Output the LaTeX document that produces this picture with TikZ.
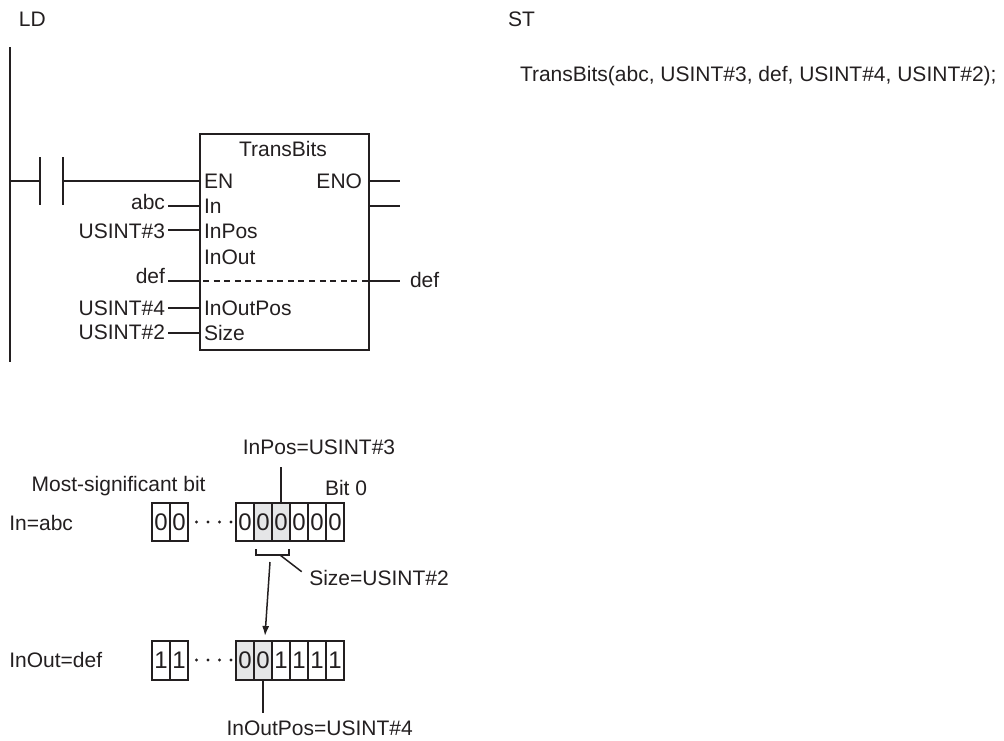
\documentclass[tikz,border=0pt]{standalone}
\usepackage{fontspec}
\setmainfont{Liberation Sans}
\usetikzlibrary{arrows.meta}
\definecolor{ink}{RGB}{35,31,32}
\definecolor{cellgray}{RGB}{229,230,231}
\begin{document}
\begin{tikzpicture}[x=1pt,y=-1pt,
  font=\fontsize{21}{25}\selectfont, line width=2pt, draw=ink, text=ink,
  lbl/.style={inner sep=0pt, outer sep=0pt},
  wire/.style={line width=2pt},
  thin wire/.style={line width=1.5pt},
  cell/.style={draw=ink, line width=1.5pt, minimum width=18pt, minimum height=38pt,
    inner sep=0pt, font=\fontsize{24}{24}\selectfont},
  hcell/.style={cell, fill=cellgray},
  dotmark/.style={circle, fill=ink, inner sep=0pt, minimum size=3.2pt}]
\path[use as bounding box] (0,0) rectangle (1004,740);

% ---------- headings ----------
\node[lbl, anchor=base west] (ld) at (19,26.7) {LD};
\node[lbl, anchor=base west] (st) at (508,26.7) {ST};
\node[lbl, anchor=base west] (code) at (520,81.7) {TransBits(abc, USINT\#3, def, USINT\#4, USINT\#2);};

% ---------- ladder ----------
\coordinate (railT) at (10,47);
\coordinate (railB) at (10,362);
\draw[line width=2.2pt] (railT) -- (railB);

\coordinate (railEN) at (10,181);
\coordinate (c1) at (40,181);
\coordinate (c2) at (63,181);
\draw[wire] (railEN) -- (c1);
\draw[wire] (40,157) -- (40,205);
\draw[wire] (63,157) -- (63,205);

\node[draw=ink, line width=2pt, minimum width=169pt, minimum height=216pt,
      anchor=north west, inner sep=0pt] (fb) at (199,133) {};
\node[lbl, anchor=base] (fbname) at (283,156.7) {TransBits};

% pins on the block
\coordinate (pEN) at (199,181);
\coordinate (pIn) at (199,206);
\coordinate (pInPos) at (199,230);
\coordinate (pInOut) at (199,281);
\coordinate (pInOutPos) at (199,308);
\coordinate (pSize) at (199,333);
\coordinate (pENO) at (368,181);
\coordinate (pOut) at (368,206);
\coordinate (pInOutR) at (368,281);

\node[lbl, anchor=base west] (lEN) at (204,188) {EN};
\node[lbl, anchor=base west] (lIn) at (204,213.3) {In};
\node[lbl, anchor=base west] (lInPos) at (204,238.3) {InPos};
\node[lbl, anchor=base west] (lInOut) at (204,264) {InOut};
\node[lbl, anchor=base west] (lInOutPos) at (204,315) {InOutPos};
\node[lbl, anchor=base west] (lSize) at (204,340) {Size};
\node[lbl, anchor=base east] (lENO) at (362,188) {ENO};

% left values
\node[lbl, anchor=base east] (vabc) at (165,209.3) {abc};
\node[lbl, anchor=base east] (v3) at (165,238.3) {USINT\#3};
\node[lbl, anchor=base east] (vdef) at (165,283) {def};
\node[lbl, anchor=base east] (v4) at (165,315) {USINT\#4};
\node[lbl, anchor=base east] (v2) at (165,339) {USINT\#2};
\node[lbl, anchor=base west] (vdefR) at (410,287) {def};

\coordinate (wabc) at (168,206);
\coordinate (w3) at (168,230);
\coordinate (wdef) at (168,281);
\coordinate (w4) at (168,308);
\coordinate (w2) at (168,333);
\coordinate (oENO) at (400,181);
\coordinate (oOut) at (400,206);
\coordinate (odef) at (400,281);

\draw[wire] (c2) -- (pEN);
\draw[wire] (wabc) -- (pIn);
\draw[wire] (w3) -- (pInPos);
\draw[wire] (wdef) -- (pInOut);
\draw[wire] (w4) -- (pInOutPos);
\draw[wire] (w2) -- (pSize);
\draw[wire] (pENO) -- (oENO);
\draw[wire] (pOut) -- (oOut);
\draw[wire] (pInOutR) -- (odef);
\draw[line width=1.6pt, dash pattern=on 6pt off 4.6pt] (pInOut) ++(4,0) -- (pInOutR);

% ---------- bit diagram ----------
\node[lbl, anchor=base west] (msb) at (31.7,491.7) {Most-significant bit};
\node[lbl, anchor=base west] (inabc) at (9.3,530) {In=abc};
\node[lbl, anchor=base west] (inoutdef) at (9.3,667.5) {InOut=def};
\node[lbl, anchor=base] (inpos) at (319,454.3) {InPos=USINT\#3};
\node[lbl, anchor=base west] (bit0) at (325,495) {Bit 0};

% upper row
\node[cell] (aL1) at (161,522) {0};
\node[cell] (aL2) at (179,522) {0};
\node[cell] (a1) at (245,522) {0};
\node[hcell] (a2) at (263,522) {0};
\node[hcell] (a3) at (281,522) {0};
\node[cell] (a4) at (299,522) {0};
\node[cell] (a5) at (317,522) {0};
\node[cell] (a6) at (335,522) {0};
\foreach \x/\n in {196.5/1,208/2,219.5/3,231/4}
  \node[dotmark] (ad\n) at (\x,522) {};

% lower row
\node[cell, minimum height=39pt] (bL1) at (161,660.5) {1};
\node[cell, minimum height=39pt] (bL2) at (179,660.5) {1};
\node[hcell, minimum height=39pt] (b1) at (245,660.5) {0};
\node[hcell, minimum height=39pt] (b2) at (263,660.5) {0};
\node[cell, minimum height=39pt] (b3) at (281,660.5) {1};
\node[cell, minimum height=39pt] (b4) at (299,660.5) {1};
\node[cell, minimum height=39pt] (b5) at (317,660.5) {1};
\node[cell, minimum height=39pt] (b6) at (335,660.5) {1};
\foreach \x/\n in {196.5/1,208/2,219.5/3,231/4}
  \node[dotmark] (bd\n) at (\x,660) {};

% InPos pointer
\coordinate (inposT) at (281,467);
\draw[thin wire] (inposT) -- (a3.north);

% brace for Size
\coordinate (brL) at (256,549);
\coordinate (brR) at (289,549);
\draw[thin wire] (brL) -- (256,555) -- (289,555) -- (brR);
\node[lbl, anchor=base west] (size) at (309.3,585.7) {Size=USINT\#2};
\coordinate (sizeA) at (280,555);
\coordinate (sizeB) at (301.7,571.7);
\draw[thin wire] (sizeA) -- (sizeB);

% transfer arrow
\coordinate (arrS) at (270,562);
\coordinate (arrE) at (265,636);
\draw[thin wire, -{Latex[length=10pt,width=7pt]}] (arrS) -- (arrE);

% InOutPos pointer
\node[lbl, anchor=base] (inoutpos) at (319.7,735) {InOutPos=USINT\#4};
\coordinate (inoutposB) at (263,713);
\draw[thin wire] (b2.south) -- (inoutposB);
\end{tikzpicture}
\end{document}
